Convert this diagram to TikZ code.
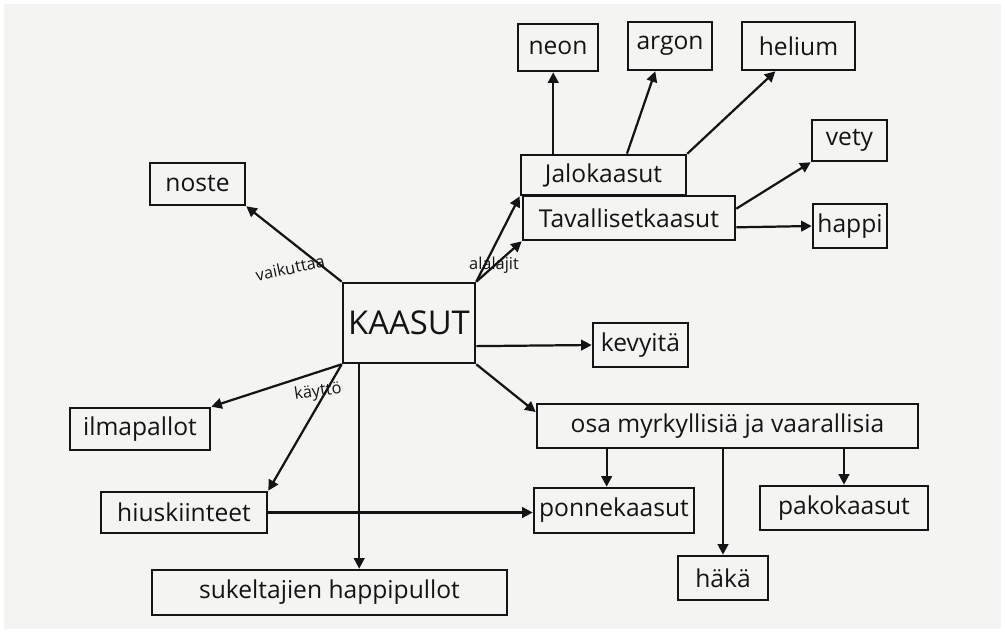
\documentclass[tikz,border=0pt]{standalone}
\usepackage{fontspec}
\setmainfont{Open Sans}
\usetikzlibrary{arrows.meta,calc}
\definecolor{paper}{RGB}{244,244,242}
\definecolor{ink}{RGB}{20,20,20}
\tikzset{
  box/.style={draw=ink, line width=2.2pt, inner sep=0pt, font=\fontsize{21}{24}\selectfont, text=ink},
  sz/.style 2 args={minimum width=#1*0.03cm, minimum height=#2*0.03cm},
  arr/.style={draw=ink, line width=1.9pt, -{Triangle[width=9pt,length=9pt]}},
  lbl/.style={font=\fontsize{14}{16}\selectfont, text=ink, inner sep=0pt}
}
\begin{document}
\begin{tikzpicture}[x=0.03cm,y=-0.03cm]
\fill[white] (0,0) rectangle (1005,633);
\fill[paper] (4,4) rectangle (1001,629);
\useasboundingbox (0,0) rectangle (1005,633);

% nodes (centre, size in px)
\node[box, sz={132}{80}, font=\fontsize{28}{32}\selectfont] (kaasut) at (409,323) {KAASUT};
\node[box, sz={95}{42}] (noste) at (197.5,184) {noste};
\node[box, sz={80}{47}] (neon) at (558,47.5) {neon};
\node[box, sz={84}{48}] (argon) at (670,46) {argon};
\node[box, sz={113}{48}] (helium) at (798.5,46) {helium};
\node[box, sz={165}{40}] (jalo) at (603.5,175) {Jalokaasut};
\node[box, sz={212}{44}] (tav) at (629,218) {Tavallisetkaasut};
\node[box, sz={75}{41}] (vety) at (849.5,140.5) {vety};
\node[box, sz={74}{44}] (happi) at (850,226) {happi};
\node[box, sz={95}{44}] (kevy) at (640.5,345) {kevyitä};
\node[box, sz={381}{44}] (osa) at (727.5,426) {osa myrkyllisiä ja vaarallisia};
\node[box, sz={160}{45}] (ponne) at (614,510.5) {ponnekaasut};
\node[box, sz={168}{44}] (pako) at (844,508) {pakokaasut};
\node[box, sz={90}{44}] (haka) at (723,578) {häkä};
\node[box, sz={140}{42}] (ilma) at (140,429) {ilmapallot};
\node[box, sz={166}{41}] (hius) at (184,512.5) {hiuskiinteet};
\node[box, sz={355}{45}] (suk) at (329.5,592.5) {sukeltajien happipullot};

% connectors
\draw[arr] (kaasut.north west) -- (noste.south east);
\draw[arr] (kaasut.north east) -- (jalo.south west);
\draw[arr] (kaasut.north east) -- (tav.south west);
\coordinate (jn) at ($(jalo.north west)!0.2!(jalo.north east)$);
\draw[arr] (jn) -- (jn |- neon.south);
\draw[arr] ($(jalo.north west)!0.64!(jalo.north east)$) -- ($(argon.south west)!0.33!(argon.south east)$);
\draw[arr] (jalo.north east) -- ($(helium.south west)!0.3!(helium.south east)$);
\draw[arr] ($(tav.north east)!0.3!(tav.south east)$) -- (vety.south west);
\draw[arr] ($(tav.north east)!0.7!(tav.south east)$) -- (happi.west);
\draw[arr] ($(kaasut.north east)!0.78!(kaasut.south east)$) -- (kevy.west);
\draw[arr] (kaasut.south east) -- ($(osa.north west)!0.2!(osa.south west)$);
\coordinate (op) at ($(osa.south west)!0.185!(osa.south east)$);
\draw[arr] (op) -- (op |- ponne.north);
\draw[arr] (haka.north |- osa.south) -- (haka.north);
\draw[arr] (pako.north |- osa.south) -- (pako.north);
\draw[arr] (kaasut.south west) -- (ilma.north east);
\draw[arr] (kaasut.south west) -- (hius.north east);
\coordinate (ks) at ($(kaasut.south west)!0.13!(kaasut.south east)$);
\draw[arr] (ks) -- (ks |- suk.north);
\draw[arr] (hius.east) -- (ponne.west |- hius.east);

% labels
\node[lbl, rotate=12] (l1) at (290,268) {vaikuttaa};
\node[lbl] (l2) at (494,265) {alalajit};
\node[lbl, rotate=8] (l3) at (318,392) {käyttö};
\end{tikzpicture}
\end{document}
